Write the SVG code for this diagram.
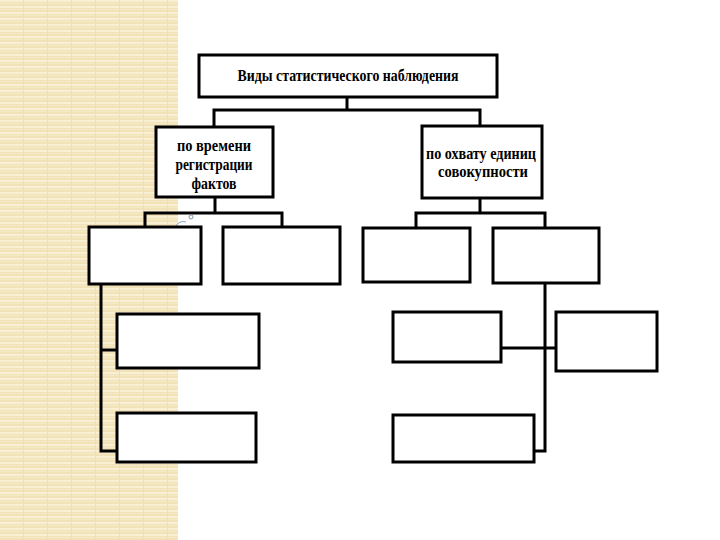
<svg xmlns="http://www.w3.org/2000/svg" width="720" height="540" viewBox="0 0 720 540">
  <defs>
    <pattern id="weave" x="0" y="0" width="24" height="6" patternUnits="userSpaceOnUse">
      <rect width="24" height="6" fill="#f2e2b8"/>
      <rect y="0" width="24" height="2" fill="#f9efd2"/>
      <rect y="3" width="24" height="1" fill="#f6e9c8"/>
      <rect x="23" y="0" width="1" height="6" fill="#f1dfb3"/>
    </pattern>
    <style>
      .box { fill: #ffffff; stroke: #000000; stroke-width: 3; }
      .conn { fill: none; stroke: #000000; stroke-width: 3; stroke-linejoin: miter; }
      .lbl { font-family: "Liberation Serif", "Times New Roman", serif; font-weight: bold; fill: #000000; text-anchor: middle; }
    </style>
  </defs>

  <rect x="0" y="0" width="720" height="540" fill="#ffffff"/>
  <rect x="0" y="0" width="178" height="540" fill="url(#weave)"/>

  <g id="connectors">
    <polyline class="conn" points="347,97 347,110"/>
    <polyline class="conn" points="214,126 214,110 480,110 480,126"/>
    <polyline class="conn" points="215,197 215,213"/>
    <polyline class="conn" points="145,227 145,213 282,213 282,227"/>
    <polyline class="conn" points="480,198 480,213"/>
    <polyline class="conn" points="416,228 416,213 545,213 545,228"/>
    <polyline class="conn" points="101,284 101,451 117,451"/>
    <polyline class="conn" points="101,350 117,350"/>
    <polyline class="conn" points="545,283 545,451 534,451"/>
    <polyline class="conn" points="501,348 556,348"/>
  </g>

  <g id="decor">
    <path d="M176,226 A8,8 0 0 1 186,222" fill="none" stroke="#8aa6b8" stroke-width="1"/>
    <circle cx="191" cy="217" r="2" fill="none" stroke="#7f98a8" stroke-width="1"/>
  </g>

  <g id="n-root">
    <rect class="box" x="199" y="55" width="298" height="42"/>
    <text class="lbl" x="348" y="81" font-size="17" textLength="221" lengthAdjust="spacingAndGlyphs">Виды статистического наблюдения</text>
  </g>

  <g id="n-time">
    <rect class="box" x="156" y="127" width="117" height="70"/>
    <text class="lbl" x="214" y="151" font-size="17" textLength="74" lengthAdjust="spacingAndGlyphs">по времени</text>
    <text class="lbl" x="214" y="170" font-size="17" textLength="77" lengthAdjust="spacingAndGlyphs">регистрации</text>
    <text class="lbl" x="214" y="189" font-size="17" textLength="45" lengthAdjust="spacingAndGlyphs">фактов</text>
  </g>

  <g id="n-coverage">
    <rect class="box" x="422" y="126" width="120" height="72"/>
    <text class="lbl" x="481" y="159" font-size="17" textLength="110" lengthAdjust="spacingAndGlyphs">по охвату единиц</text>
    <text class="lbl" x="483" y="177" font-size="17" textLength="90" lengthAdjust="spacingAndGlyphs">совокупности</text>
  </g>

  <g id="n-a"><rect class="box" x="89" y="227" width="112" height="57"/></g>
  <g id="n-b"><rect class="box" x="223" y="227" width="117" height="57"/></g>
  <g id="n-c"><rect class="box" x="363" y="228" width="107" height="54"/></g>
  <g id="n-d"><rect class="box" x="493" y="228" width="106" height="55"/></g>

  <g id="n-a1"><rect class="box" x="117" y="314" width="142" height="54"/></g>
  <g id="n-a2"><rect class="box" x="117" y="413" width="139" height="49"/></g>

  <g id="n-d1"><rect class="box" x="393" y="312" width="108" height="50"/></g>
  <g id="n-d2"><rect class="box" x="556" y="312" width="101" height="59"/></g>
  <g id="n-d3"><rect class="box" x="393" y="415" width="141" height="47"/></g>
</svg>
